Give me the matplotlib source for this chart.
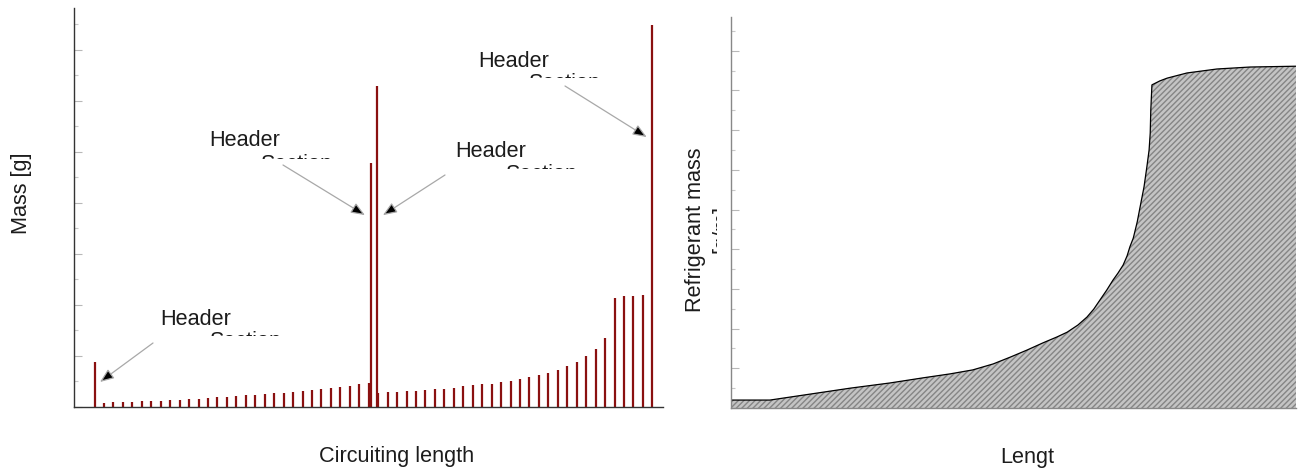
import matplotlib
matplotlib.use("Agg")
import matplotlib.pyplot as plt
from matplotlib.ticker import MultipleLocator, NullFormatter, NullLocator
from matplotlib.transforms import Bbox, TransformedBbox

plt.rcParams['font.family'] = ['Liberation Sans', 'DejaVu Sans']
plt.rcParams['hatch.linewidth'] = 1.0

W, H = 1300, 475  # figure size in pixels

# --- left panel: mass per circuit element [g] ---
# tube segments, first pass (positions 1..29) and second pass (30..58)
pass1_mass = [0.084, 0.092, 0.098, 0.104, 0.112, 0.118, 0.124, 0.131, 0.143, 0.157,
              0.163, 0.176, 0.190, 0.202, 0.216, 0.229, 0.241, 0.255, 0.269, 0.280,
              0.300, 0.314, 0.333, 0.347, 0.373, 0.392, 0.418, 0.445, 0.471]
pass2_mass = [0.275, 0.294, 0.294, 0.308, 0.320, 0.327, 0.347, 0.359, 0.378, 0.406,
              0.425, 0.445, 0.457, 0.490, 0.516, 0.555, 0.588, 0.627, 0.673, 0.731,
              0.804, 0.876, 0.994, 1.131, 1.353, 2.143, 2.171, 2.176, 2.190]
# header sections
header_pos = [0, 29.25, 29.85, 59]
header_mass = [0.88, 4.78, 6.29, 7.49]

# --- right panel: cumulative refrigerant mass along the length ---
length_m = [0.0, 0.69, 1.40, 2.11, 2.81, 3.40, 3.88, 4.28, 4.64, 4.94, 5.24, 5.52,
            5.77, 5.95, 6.14, 6.30, 6.42, 6.53, 6.65, 6.76, 6.85, 6.94, 7.01, 7.06,
            7.12, 7.19, 7.24, 7.31, 7.36, 7.40, 7.42, 7.43, 7.45, 7.59, 7.72, 8.07,
            8.60, 9.19, 10.0]
cum_mass = [0.20, 0.20, 0.35, 0.50, 0.63, 0.76, 0.86, 0.96, 1.11, 1.28, 1.46, 1.64,
            1.79, 1.91, 2.09, 2.29, 2.49, 2.72, 2.97, 3.22, 3.40, 3.60, 3.83, 4.06,
            4.28, 4.69, 5.06, 5.57, 6.07, 6.50, 6.93, 7.51, 8.14, 8.24, 8.31, 8.44,
            8.54, 8.59, 8.61]

RED = '#8a1010'
TXT = '#1c1c1c'
FS = 15.6


def fx(px):
    return px / W


def fy(py):
    return 1 - py / H


def clipped_text(fig, x, y, s, box, **kw):
    """Text whose visible part is cut to box = (x0, y0, x1, y1) in pixels."""
    t = fig.text(fx(x), fy(y), s, clip_on=True, **kw)
    x0, y0, x1, y1 = box
    bb = Bbox.from_extents(fx(x0), fy(y1), fx(x1), fy(y0))
    t.set_clip_box(TransformedBbox(bb, fig.transFigure))
    return t


def style_axis(ax, spine_color, major, minor):
    for side in ['top', 'right']:
        ax.spines[side].set_visible(False)
    for side in ['left', 'bottom']:
        ax.spines[side].set_color(spine_color)
        ax.spines[side].set_linewidth(1.0)
    ax.xaxis.set_major_locator(NullLocator())
    ax.yaxis.set_major_locator(MultipleLocator(major))
    ax.yaxis.set_minor_locator(MultipleLocator(minor))
    ax.yaxis.set_major_formatter(NullFormatter())
    ax.tick_params(axis='y', which='major', direction='in', length=6, width=0.8, color='#b8b8b8')
    ax.tick_params(axis='y', which='minor', direction='in', length=3, width=0.8, color='#c8c8c8')


fig = plt.figure(figsize=(W / 100, H / 100), dpi=100)

# ---------------- left: mass distribution ----------------
ax1 = fig.add_axes([fx(74), fy(407), fx(663) - fx(74), fy(8) - fy(407)])
pos1 = list(range(1, 1 + len(pass1_mass)))
pos2 = list(range(30, 30 + len(pass2_mass)))
ax1.vlines(pos1, 0, pass1_mass, colors=RED, lw=1.6)
ax1.vlines(pos2, 0, pass2_mass, colors=RED, lw=1.6)
ax1.vlines(header_pos, 0, header_mass, colors=RED, lw=1.6)
ax1.set_xlim(-2.17, 60.12)
ax1.set_ylim(0, 7.82)
style_axis(ax1, '#333333', 1, 0.5)

arrow = dict(arrowstyle='-|>,head_length=0.7,head_width=0.28', fc='black', ec='#a8a8a8',
             lw=0.9, shrinkA=0, shrinkB=0, mutation_scale=12)
# (arrow tip in data coords, arrow start in px)
notes = [((28.6, 3.76), (283, 165)),
         ((30.5, 3.76), (445, 175)),
         ((58.4, 5.29), (565, 86)),
         ((0.58, 0.49), (153, 343))]
for tip, start in notes:
    ax1.annotate("", xy=tip, xytext=(fx(start[0]), fy(start[1])),
                 textcoords='figure fraction', arrowprops=arrow)

# "Header" labels with the cut-off "Section" line underneath
for hx, hy, sx, sy in [(209, 146, 260, 154), (455, 157, 505, 164),
                       (478, 67, 528, 73), (160, 325, 209, 331)]:
    fig.text(fx(hx), fy(hy), "Header", fontsize=FS, color=TXT, ha='left', va='baseline')
    clipped_text(fig, sx, sy, "Section", (sx - 5, sy - 5, sx + 90, sy + 5),
                 fontsize=FS, color=TXT, ha='left', va='top')

fig.text(fx(22), fy(193), "Mass [g]", fontsize=FS, color=TXT, rotation=90,
         ha='center', va='center')
fig.text(fx(397), fy(462), "Circuiting length", fontsize=FS, color=TXT,
         ha='center', va='baseline')

# ---------------- right: cumulative refrigerant mass ----------------
ax2 = fig.add_axes([fx(731), fy(408), fx(1296) - fx(731), fy(17) - fy(408)])
ax2.fill_between(length_m, cum_mass, 0, facecolor='#c4c4c4', edgecolor='#858585',
                 hatch='//////', linewidth=0)
ax2.plot(length_m, cum_mass, color='black', lw=0.9)
ax2.set_xlim(0, 10)
ax2.set_ylim(0, 9.85)
style_axis(ax2, '#888888', 1, 0.5)

fig.text(fx(696), fy(229.5), "Refrigerant mass", fontsize=FS, color=TXT, rotation=90,
         ha='center', va='center')
clipped_text(fig, 711, 229, "[g/m]", (700, 190, 717, 270),
             fontsize=FS, color=TXT, rotation=90, ha='left', va='center')
fig.text(fx(1000), fy(463), "Lengt", fontsize=FS, color=TXT, ha='left', va='baseline')

fig.savefig("out.png", dpi=100)
